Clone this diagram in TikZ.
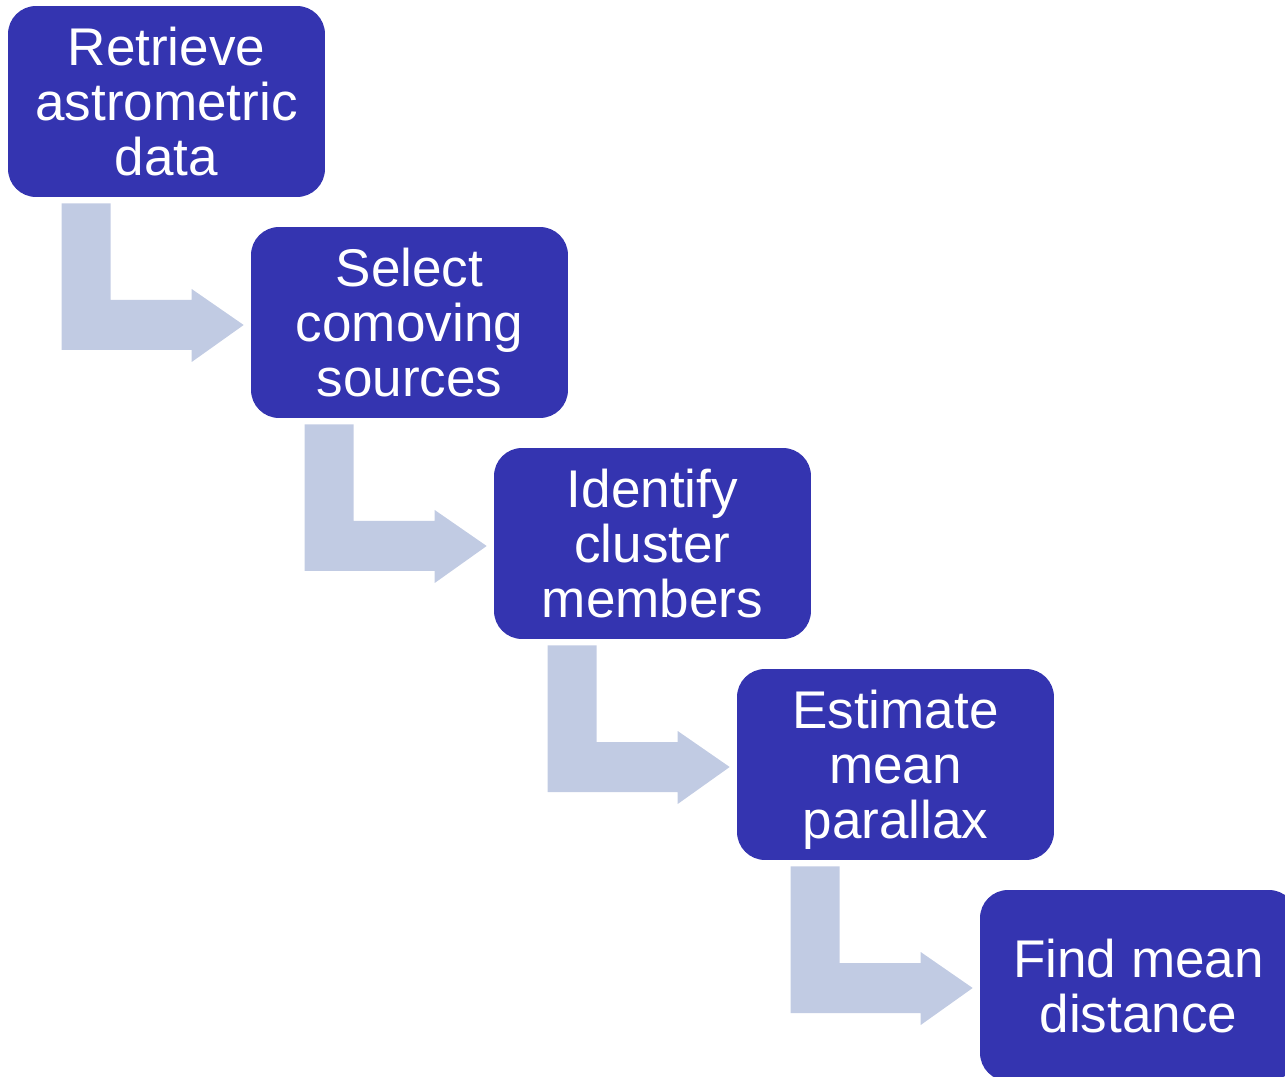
\documentclass[tikz,border=0pt]{standalone}
\usepackage{fontspec}
\setmainfont{Liberation Sans}
\usetikzlibrary{calc}
\definecolor{boxblue}{HTML}{3434B0}
\definecolor{arrowblue}{HTML}{C1CBE3}

% bent arrow from the box #1 to the box #2
\newcommand\bendarrow[2]{%
  \fill[arrowblue] ($(#1.south west)+(54,-6)$) -- ($(#1.south west)+(103,-6)$)
    -- ($(#1.south west |- #2.west)+(103,22.5)$) -- ($(#2.west)+(-59,22.5)$)
    -- ($(#2.west)+(-59,33.5)$) -- ($(#2.west)+(-7,-2.5)$)
    -- ($(#2.west)+(-59,-39.5)$) -- ($(#2.west)+(-59,-27.5)$)
    -- ($(#1.south west |- #2.west)+(54,-27.5)$) -- cycle;}

\begin{document}
\begin{tikzpicture}[x=0.02cm,y=0.02cm,
  stepbox/.style={fill=boxblue,rounded corners=0.56cm,minimum width=6.34cm,
    minimum height=3.82cm,inner sep=0pt,align=center,text=white,
    text depth=0pt,font=\fontsize{30.2}{31.3}\selectfont}]
  \useasboundingbox (0,0) rectangle (1285,-1077);

  % draw the steps
  \node[stepbox] (retrieve) at (166.5,-101.5) {Retrieve\\astrometric\\data};
  \node[stepbox] (select) at (409.5,-322.5) {Select\\comoving\\sources};
  \node[stepbox] (identify) at (652.5,-543.5) {Identify\\cluster\\members};
  \node[stepbox] (estimate) at (895.5,-764.5) {Estimate\\mean\\parallax};
  \node[stepbox] (find) at (1138.5,-985.5) {Find mean\\distance};

  % draw the arrows
  \bendarrow{retrieve}{select}
  \bendarrow{select}{identify}
  \bendarrow{identify}{estimate}
  \bendarrow{estimate}{find}
\end{tikzpicture}
\end{document}
